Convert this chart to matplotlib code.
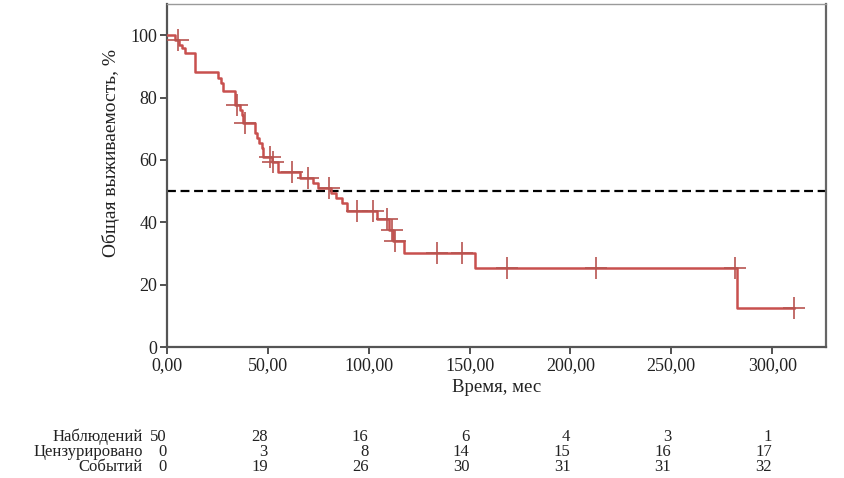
import matplotlib
matplotlib.use("Agg")
import matplotlib.pyplot as plt
from matplotlib.transforms import blended_transform_factory

# ---- data ----
step_times = [0, 4, 6, 7.5, 9, 14, 25.4, 26.6, 27.9, 33.7, 36.2, 37.0, 37.7,
              43.6, 44.6, 45.8, 47.0, 47.8, 52.0, 55.2, 66.0, 72.5, 75.0,
              81.5, 84.0, 86.8, 89.0, 104.0, 110.0, 112.0, 117.5, 152.7,
              282.6, 311.0]
surv = [100, 98.4, 96.8, 95.8, 94.2, 88.1, 86.4, 84.6, 82.2, 77.6, 76.0, 74.4,
        71.8, 68.6, 67.0, 65.4, 63.8, 61.0, 59.4, 56.2, 54.1, 52.5, 50.9,
        49.3, 47.8, 46.2, 43.6, 41.0, 37.5, 34.0, 30.1, 25.3,
        12.5, 12.5]
cens_times = [5.5, 34.5, 38.7, 50.9, 52.6, 62.0, 70.0, 80.5, 94.0, 102.0,
              109.0, 111.5, 113.0, 134.0, 146.0, 168.5, 212.7, 281.6, 311.0]
cens_surv = [98.4, 77.6, 71.8, 61.0, 59.4, 56.2, 54.1, 50.9, 43.6, 43.6,
             41.0, 37.5, 34.0, 30.1, 30.1, 25.3, 25.3, 25.3, 12.5]
median_line = 50

x_ticks = [0, 50, 100, 150, 200, 250, 300]
x_tick_labels = ["0,00", "50,00", "100,00", "150,00", "200,00", "250,00", "300,00"]
y_ticks = [0, 20, 40, 60, 80, 100]

risk_rows = ["Наблюдений", "Цензурировано", "Событий"]
at_risk = [50, 28, 16, 6, 4, 3, 1]
censored = [0, 3, 8, 14, 15, 16, 17]
events = [0, 19, 26, 30, 31, 31, 32]

xlabel = "Время, мес"
ylabel = "Общая выживаемость, %"

# ---- figure ----
plt.rcParams['font.family'] = ['Liberation Serif', 'DejaVu Serif']
fig = plt.figure(figsize=(8.45, 4.78), dpi=100)
ax = fig.add_axes([167/845, 1-347/478, (826-167)/845, (347-4)/478])

line_color = '#C8504E'
ax.step(step_times, surv, where='post', color=line_color, lw=1.8, zorder=3)
ax.plot(cens_times, cens_surv, linestyle='none', marker='+', markersize=16,
        mew=1.2, color='#B85450', zorder=4)
ax.axhline(median_line, color='black', lw=1.6, dashes=(4, 2.1), zorder=2)

ax.set_xlim(0, 326.7)
ax.set_ylim(0, 110)
ax.set_xticks(x_ticks)
ax.set_xticklabels(x_tick_labels)
ax.set_yticks(y_ticks)
ax.tick_params(direction='out', length=5, width=1.2, labelsize=13,
               colors='#333333', labelcolor='#222222', pad=2)
for side in ['left', 'bottom']:
    ax.spines[side].set_color('#555555')
    ax.spines[side].set_linewidth(1.6)
ax.spines['right'].set_color('#666666')
ax.spines['right'].set_linewidth(1.6)
ax.spines['top'].set_color('#9a9a9a')
ax.spines['top'].set_linewidth(1.0)

ax.set_xlabel(xlabel, fontsize=13.5, color='#222222', labelpad=4)
ax.set_ylabel(ylabel, fontsize=14, color='#222222')
ax.yaxis.set_label_coords(-0.072, 0.565)

# ---- number-at-risk table ----
trans = blended_transform_factory(ax.transData, fig.transFigure)
rows = [at_risk, censored, events]
row_y = [1-437/478, 1-452/478, 1-467/478]
for name, vals, yy in zip(risk_rows, rows, row_y):
    fig.text(143/845, yy, name, ha='right', va='center', fontsize=12, color='#222222')
    for xv, v in zip(x_ticks, vals):
        ax.text(xv, yy, str(v), transform=trans, ha='right', va='center',
                fontsize=12, color='#222222', clip_on=False)

fig.savefig("out.png", dpi=100)
